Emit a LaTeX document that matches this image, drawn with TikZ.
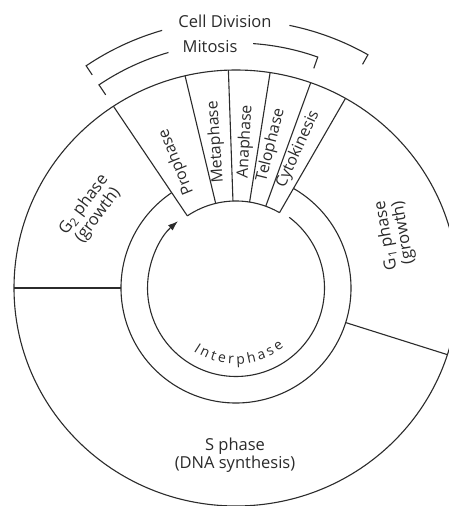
\documentclass[tikz,border=0pt]{standalone}
\usepackage{fontspec}
\setmainfont{Open Sans}
\usetikzlibrary{decorations.text,arrows.meta}
\definecolor{ink}{HTML}{2B2B2B}
\begin{document}
\begin{tikzpicture}[x=1pt,y=1pt,
  line/.style={draw=ink,line width=1.1pt},
  lbl/.style={text=ink,font=\fontsize{16.5}{15.5}\selectfont,inner sep=0pt,align=center},
  sect/.style={text=ink,font=\fontsize{15.8}{15.8}\selectfont,inner sep=0pt}]
\useasboundingbox (-236,-218) rectangle (213,288);
\fill[white] (-236,-218) rectangle (213,288);
\begin{scope}
\clip (-236,-218) rectangle (213,288);
% outer boundary
\draw[line] (0,0) ellipse [x radius=222, y radius=218];
% interphase ring (outer edge), open over the mitosis sectors
\draw[line] (60:115) arc[start angle=60, end angle=-236, radius=115];
% inner edge of the mitosis sectors
\draw[line] (124:87) arc[start angle=124, end angle=60, radius=87];
% sector boundaries
\foreach \a/\r in {124/219.2,103.5/218.2,92/218,81/218.1,70/218.5,60/219}
  \draw[line] (\a:87) -- (\a:\r);
\draw[line] (180:115) -- (180:222);
\draw[line] (-17.5:115) -- (-17.5:221.6);
% interphase arrow
\coordinate (arrS) at (53:88.5);
\draw[line,-{Latex[length=10pt,width=7pt]}] (arrS) arc[start angle=53,end angle=-229,radius=88.5];
\end{scope}
% brackets
\draw[line] (124:257) -- (124:268) arc[start angle=124,end angle=106,radius=268];
\draw[line] (78.5:268) arc[start angle=78.5,end angle=60.5,radius=268] -- (60.5:257);
\draw[line] (124:233) -- (124:245) arc[start angle=124,end angle=106,radius=245];
\draw[line] (86:245) arc[start angle=86,end angle=70.5,radius=245] -- (70.5:233);
% labels
\node[lbl] (cd) at (-11,267) {Cell Division};
\node[lbl] (mi) at (-26,241) {Mitosis};
\node[sect,rotate=112] (pro) at (-59.5,126) {Prophase};
\node[sect,rotate=94] (meta) at (-20,146) {Metaphase};
\node[sect,rotate=87] (ana) at (9.5,146.5) {Anaphase};
\node[sect,rotate=76] (telo) at (35,143) {Telophase};
\node[sect,rotate=65.5] (cyto) at (62,138.5) {Cytokinesis};
\node[lbl,rotate=53] (g2) at (-145,78) {G\textsubscript{2} phase\\(growth)};
\node[lbl,rotate=100] (g1) at (159,54) {G\textsubscript{1} phase\\(growth)};
\node[lbl] (s) at (-1,-167) {S phase\\(DNA synthesis)};
\path[decorate,decoration={text along path,text align=fit to path,
  text color=ink,text={|\fontsize{14}{14}\selectfont|Interphase}}]
  (-124:76) arc[start angle=-124,end angle=-51,radius=76];
\end{tikzpicture}
\end{document}
